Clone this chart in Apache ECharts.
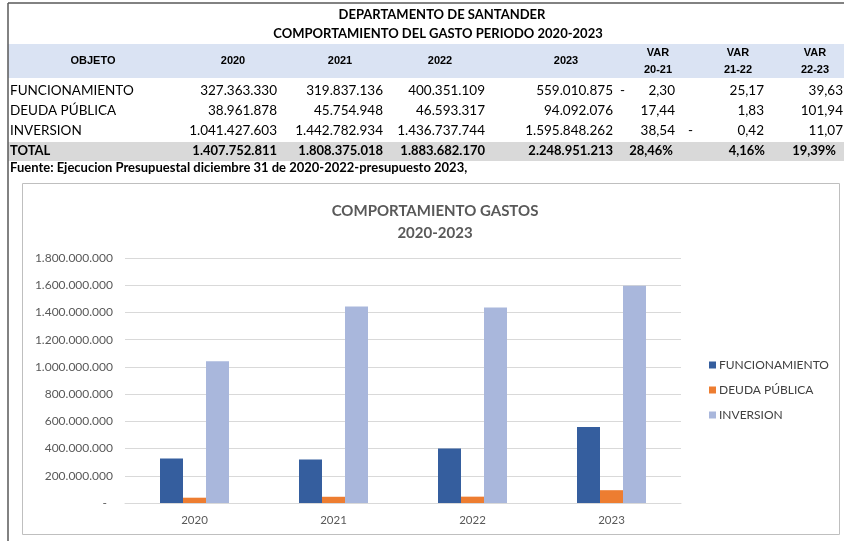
<!DOCTYPE html>
<html>
<head>
<meta charset="utf-8">
<script src="https://cdn.jsdelivr.net/npm/echarts@6/dist/echarts.min.js"></script>
<style>
  html, body { margin: 0; padding: 0; background: #fff; }
  #main { width: 844px; height: 541px; }
</style>
</head>
<body>
<div id="main"></div>
<script>
var years = ['2020', '2021', '2022', '2023'];
var rubros = ['FUNCIONAMIENTO', 'DEUDA PÚBLICA', 'INVERSION'];
var funcionamiento = [327363330, 319837136, 400351109, 559010875];
var deuda = [38961878, 45754948, 46593317, 94092076];
var inversion = [1041427603, 1442782934, 1436737744, 1595848262];
var totales = [1407752811, 1808375018, 1883682170, 2248951213];
var varFunc = [-2.30, 25.17, 39.63];
var varDeuda = [17.44, 1.83, 101.94];
var varInv = [38.54, -0.42, 11.07];
var varTotal = [28.46, 4.16, 19.39];
var varHeads = ['20-21', '21-22', '22-23'];

var colors = ['#355e9e', '#ed7d31', '#a9b7dc'];

function miles(n) {
  return String(Math.round(n)).replace(/\B(?=(\d{3})+(?!\d))/g, '.');
}
function dec(n) {
  return Math.abs(n).toFixed(2).replace('.', ',');
}

var myChart = echarts.init(document.getElementById('main'));

// table layout
var bodyFont = '13.5px Lato';
var boldFont = 'bold 13px Lato';
var headFont = 'bold 11px "Liberation Sans"';
var valRight = [277, 383, 485, 613];
var varRight = [675, 764, 843];
var varMinus = [620, 688, 770];
var rowY = [91, 111, 131];
var totalY = 151;

var g = [];
function txt(x, y, s, font, align, fill) {
  g.push({
    type: 'text', x: x, y: y, silent: true,
    style: { text: s, font: font, fill: fill || '#000', align: align || 'left', verticalAlign: 'middle' }
  });
}

// header band & total band
g.push({ type: 'rect', shape: { x: 8, y: 44, width: 836, height: 34 }, style: { fill: '#dae3f3' }, silent: true });
g.push({ type: 'rect', shape: { x: 8, y: 142, width: 836, height: 19 }, style: { fill: '#d9d9d9' }, silent: true });
// outer frame
g.push({ type: 'line', shape: { x1: 8, y1: 3, x2: 844, y2: 3 }, style: { stroke: '#595959', lineWidth: 1.5 }, silent: true });
g.push({ type: 'line', shape: { x1: 8, y1: 3, x2: 8, y2: 541 }, style: { stroke: '#595959', lineWidth: 1.5 }, silent: true });
// chart frame
g.push({ type: 'rect', shape: { x: 22.5, y: 183.5, width: 817, height: 351 }, style: { fill: 'none', stroke: '#bfbfbf', lineWidth: 1 }, silent: true });

txt(442, 15, 'DEPARTAMENTO DE SANTANDER', boldFont, 'center');
txt(438, 34, 'COMPORTAMIENTO DEL GASTO PERIODO 2020-2023', boldFont, 'center');

txt(93, 61, 'OBJETO', headFont, 'center');
var headCenters = [233, 340, 440, 566];
years.forEach(function (y, i) { txt(headCenters[i], 61, y, headFont, 'center'); });
var varCenters = [658, 738, 815];
varHeads.forEach(function (h, i) {
  txt(varCenters[i], 53, 'VAR', headFont, 'center');
  txt(varCenters[i], 70, h, headFont, 'center');
});

var rows = [funcionamiento, deuda, inversion];
var vars = [varFunc, varDeuda, varInv];
rubros.forEach(function (r, k) {
  txt(10, rowY[k], r, bodyFont, 'left');
  rows[k].forEach(function (v, i) { txt(valRight[i], rowY[k], miles(v), bodyFont, 'right'); });
  vars[k].forEach(function (v, i) {
    txt(varRight[i], rowY[k], dec(v), bodyFont, 'right');
    if (v < 0) txt(varMinus[i], rowY[k], '-', bodyFont, 'left');
  });
});
txt(10, totalY, 'TOTAL', boldFont, 'left');
totales.forEach(function (v, i) { txt(valRight[i], totalY, miles(v), boldFont, 'right'); });
var totRight = [673, 765, 836];
varTotal.forEach(function (v, i) { txt(totRight[i], totalY, dec(v) + '%', boldFont, 'right'); });

txt(10, 168, 'Fuente: Ejecucion Presupuestal diciembre 31 de 2020-2022-presupuesto 2023,', 'bold 13px Lato', 'left');

var option = {
  animation: false,
  textStyle: { fontFamily: 'Lato' },
  title: {
    text: 'COMPORTAMIENTO GASTOS\n2020-2023',
    left: 430,
    top: 195,
    textAlign: 'center',
    textStyle: { fontSize: 15, fontWeight: 'bold', color: '#595959', lineHeight: 22, fontFamily: 'Lato' }
  },
  legend: {
    orient: 'vertical',
    left: 704,
    top: 354,
    icon: 'rect',
    itemWidth: 7,
    itemHeight: 7,
    itemGap: 13,
    textStyle: { fontSize: 12, color: '#404040', fontFamily: 'Lato', padding: [0, 0, 0, -2] },
    data: rubros
  },
  grid: { left: 125, right: 163, top: 258, bottom: 38 },
  xAxis: {
    type: 'category',
    data: years,
    axisLine: { lineStyle: { color: '#d9d9d9' } },
    axisTick: { show: false },
    axisLabel: { color: '#595959', fontSize: 11.5, margin: 11 }
  },
  yAxis: {
    type: 'value',
    min: 0,
    max: 1800000000,
    interval: 200000000,
    axisLine: { show: false },
    axisTick: { show: false },
    splitLine: { lineStyle: { color: '#d9d9d9' } },
    axisLabel: {
      color: '#595959', fontSize: 12, margin: 12,
      formatter: function (v) { return v === 0 ? '-  ' : miles(v); }
    }
  },
  series: [
    { name: rubros[0], type: 'bar', data: funcionamiento, barWidth: 23, barGap: '0%', itemStyle: { color: colors[0] } },
    { name: rubros[1], type: 'bar', data: deuda, barWidth: 23, barGap: '0%', itemStyle: { color: colors[1] } },
    { name: rubros[2], type: 'bar', data: inversion, barWidth: 23, barGap: '0%', itemStyle: { color: colors[2] } }
  ],
  graphic: g
};

myChart.setOption(option);
</script>
</body>
</html>
